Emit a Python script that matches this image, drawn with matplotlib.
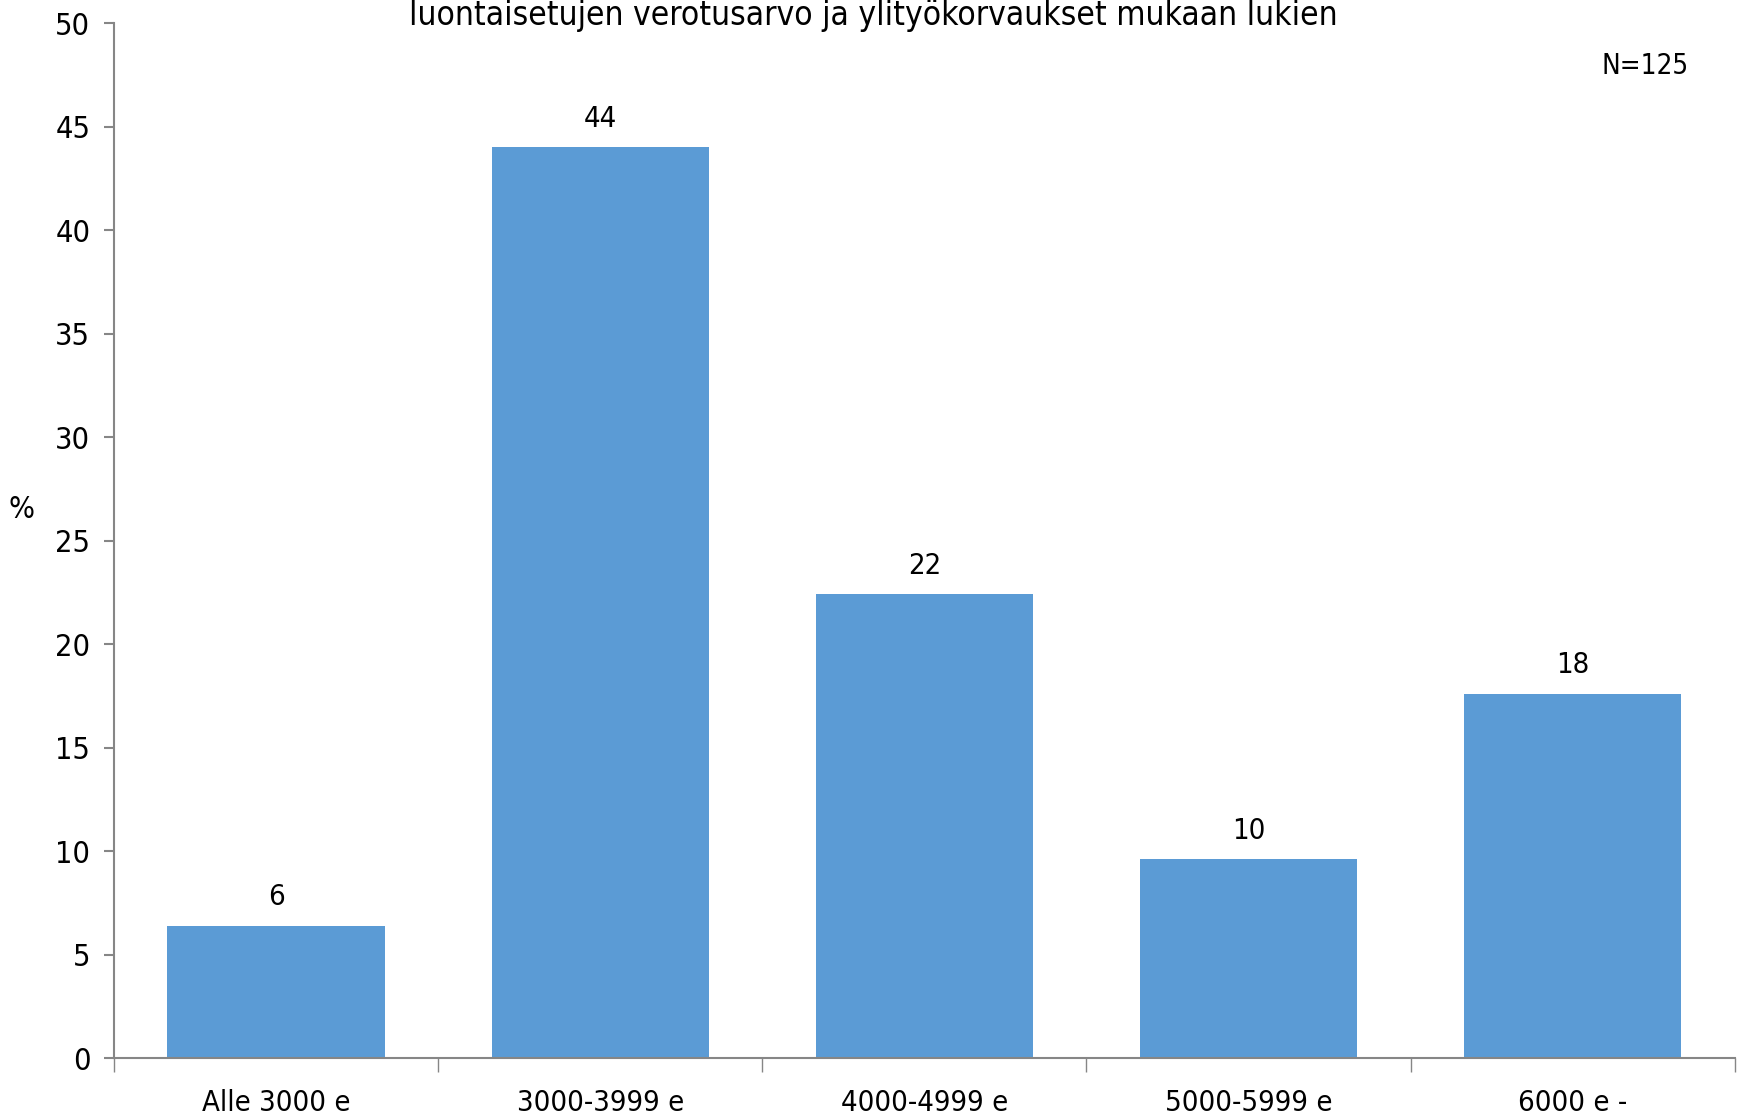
import matplotlib.pyplot as plt
import numpy as np

# Income groups and share of respondents (%)
categories = ['Alle 3000 e', '3000-3999 e', '4000-4999 e', '5000-5999 e', '6000 e -']
shares = [6.4, 44.0, 22.4, 9.6, 17.6]
title_text = 'luontaisetujen verotusarvo ja ylityökorvaukset mukaan lukien'
n_text = 'N=125'

plt.rcParams['font.family'] = ['DejaVu Sans']
plt.rcParams['font.stretch'] = 'condensed'

fig = plt.figure(figsize=(17.4, 11.17), dpi=100)
ax = fig.add_axes([0.0655, 0.0528, 0.9315, 0.9266])

x = np.arange(len(categories))
bars = ax.bar(x, shares, width=0.67, color='#5B9BD5', zorder=2)

# value labels above the bars, rounded to whole percent
for b, v in zip(bars, shares):
    ax.text(b.get_x() + b.get_width() / 2, v + 0.7, f'{v:.0f}',
            ha='center', va='bottom', fontsize=21)

ax.set_xlim(-0.5, len(categories) - 0.5)
ax.set_ylim(0, 50)
ax.set_yticks(np.arange(0, 51, 5))
ax.set_xticks(x)
ax.set_xticklabels(categories)
ax.set_xticks(np.arange(-0.5, len(categories)), minor=True)

gray = '#868686'
for side in ['top', 'right']:
    ax.spines[side].set_visible(False)
for side in ['left', 'bottom']:
    ax.spines[side].set_color(gray)
    ax.spines[side].set_linewidth(1.5)

ax.tick_params(axis='y', length=7, width=1.5, color=gray, labelsize=22, pad=10)
ax.tick_params(axis='x', which='major', length=0, labelsize=21, pad=22)
ax.tick_params(axis='x', which='minor', length=10, width=1, color=gray)

ax.set_ylabel('%', rotation=0, fontsize=22, va='center', ha='center')
ax.yaxis.set_label_coords(-0.057, 0.53)

fig.text(0.502, 1 - 15 / 1117, title_text, ha='center', va='center', fontsize=24)
fig.text(1689 / 1740, 1 - 66 / 1117, n_text, ha='right', va='center', fontsize=20)

fig.savefig('out.png', dpi=100)
